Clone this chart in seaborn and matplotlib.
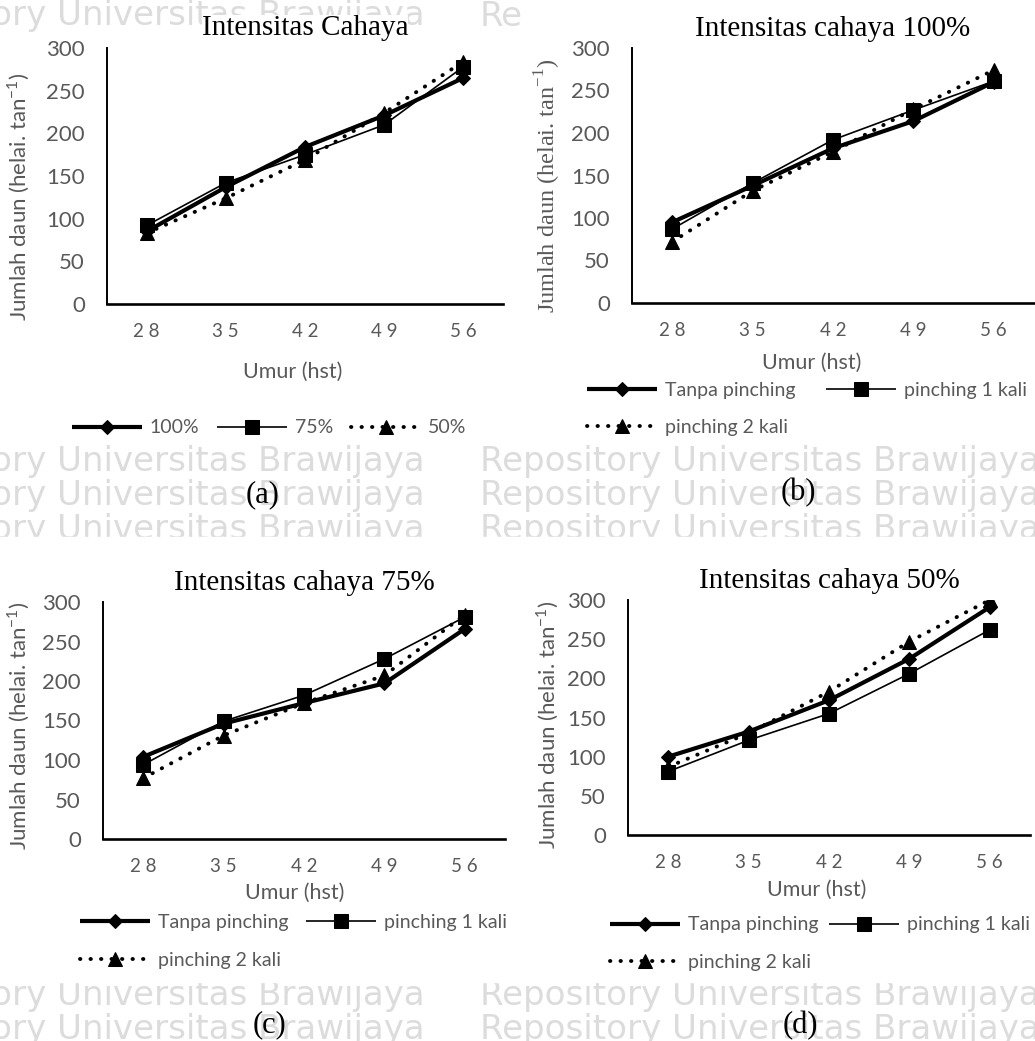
import numpy as np
import matplotlib
matplotlib.use("Agg")
import matplotlib.pyplot as plt
from matplotlib.patches import Rectangle
import seaborn as sns
import pandas as pd

# umur tanaman (hari setelah tanam)
umur = ["28", "35", "42", "49", "56"]
umur_labels = ["2 8", "3 5", "4 2", "4 9", "5 6"]

# (a) intensitas cahaya
a_100 = [85, 137, 184, 221, 265]
a_75 = [92, 142, 175, 210, 278]
a_50 = [83, 124, 169, 224, 284]
a_names = ["100%", "75%", "50%"]

# (b) intensitas cahaya 100%
b_tanpa = [95, 138, 182, 214, 260]
b_p1 = [87, 141, 192, 227, 261]
b_p2 = [72, 132, 178, 228, 274]

# (c) intensitas cahaya 75%
c_tanpa = [104, 146, 172, 197, 266]
c_p1 = [94, 149, 182, 228, 281]
c_p2 = [77, 131, 172, 207, 284]

# (d) intensitas cahaya 50%
d_tanpa = [100, 132, 172, 225, 291]
d_p1 = [81, 121, 155, 206, 262]
d_p2 = [87, 130, 183, 247, 300]

pinch_names = ["Tanpa pinching", "pinching 1 kali", "pinching 2 kali"]
titles = ["Intensitas Cahaya", "Intensitas cahaya 100%",
          "Intensitas cahaya 75%", "Intensitas cahaya 50%"]
panel_tags = ["(a)", "(b)", "(c)", "(d)"]

sns.set_theme(style="white")
plt.rcParams["font.family"] = ["Lato", "DejaVu Sans"]

W, H = 1035, 1041
GREY = "#595959"
SERIF = "Liberation Serif"


def fx(px):
    return px / W


def fy(py):
    return 1 - py / H


fig = plt.figure(figsize=(W / 100, H / 100), dpi=100)

# faint repository watermark behind the panels
wm = "Repository Universitas Brawijaya"
wm_kw = dict(fontsize=24.5, color="#dcdcdc", family="DejaVu Sans",
             va="center", zorder=-2)
for row in [461, 495, 529, 995, 1029]:
    fig.text(fx(425), fy(row), wm, ha="right", **wm_kw)
    fig.text(fx(480), fy(row), wm, ha="left", **wm_kw)
fig.text(fx(425), fy(16), wm, ha="right", **wm_kw)
fig.text(fx(480), fy(16), "Re", ha="left", **wm_kw)
fig.patches.append(Rectangle((0, fy(982)), 1, (982 - 537) / H,
                             transform=fig.transFigure, color="white", zorder=-1))

# plot area boxes in pixels: left, right, top, bottom
boxes = [(107, 503, 48, 304), (632, 1034, 48, 303),
         (103, 505, 602, 839), (628, 1030, 600, 835)]

series = [
    ([a_100, a_75, a_50], a_names),
    ([b_tanpa, b_p1, b_p2], pinch_names),
    ([c_tanpa, c_p1, c_p2], pinch_names),
    ([d_tanpa, d_p1, d_p2], pinch_names),
]

styles = [
    dict(lw=3.0, ls="-", marker="D", ms=7.5),
    dict(lw=1.2, ls="-", marker="s", ms=10),
    dict(lw=2.8, ls=(0, (0.1, 2.6)), marker="^", ms=10.5),
]

ylab = "Jumlah daun (helai. tan$^{\\mathregular{-1}}$)"
ylab_pos = [(-0.19, 0.42), (-0.172, 0.46), (-0.177, 0.477), (-0.167, 0.47)]
xlab_pos = [(0.47, -0.225), (0.448, -0.195), (0.478, -0.185), (0.47, -0.19)]
leg_pos = [(-0.088, -0.484), (-0.112, -0.416), (-0.057, -0.432), (-0.045, -0.462)]
col_space = [0.9, 1.6, 0.9, 0.55]
tag_pos = [(263, 495), (798, 493), (270, 1025), (800, 1026)]

for i, (left, right, top, bottom) in enumerate(boxes):
    ax = fig.add_axes([fx(left), fy(bottom), (right - left) / W, (bottom - top) / H])
    vals, names = series[i]
    for v, name, st in zip(vals, names, styles):
        df = pd.DataFrame({"umur": umur, "daun": v})
        sns.lineplot(data=df, x="umur", y="daun", ax=ax, color="black",
                     linewidth=st["lw"], linestyle=st["ls"], marker=st["marker"],
                     markersize=st["ms"], markeredgecolor="black",
                     dash_capstyle="round", solid_capstyle="butt",
                     label=name, sort=False)

    ax.set_xlim(-0.5, len(umur) - 0.5)
    ax.set_ylim(0, 300)
    ax.set_yticks(np.arange(0, 301, 50))
    ax.set_xticks(range(len(umur)), labels=umur_labels)
    ax.tick_params(axis="y", labelsize=16, colors=GREY, length=0, pad=16)
    ax.tick_params(axis="x", labelsize=13.5, colors=GREY, length=0, pad=14)
    for s in ["top", "right"]:
        ax.spines[s].set_visible(False)
    ax.spines["left"].set_color("black")
    ax.spines["left"].set_linewidth(1.4)
    ax.spines["bottom"].set_color("black")
    ax.spines["bottom"].set_linewidth(1.9)

    ax.set_title(titles[i], family=SERIF, fontsize=21, color="black", pad=9,
                 bbox=dict(facecolor="white", edgecolor="none", pad=0))

    if i == 1:
        ax.set_ylabel(ylab, family=SERIF, fontsize=17.5, color=GREY)
    else:
        ax.set_ylabel(ylab, fontsize=16, color=GREY)
    ax.yaxis.set_label_coords(*ylab_pos[i])
    ax.set_xlabel("Umur (hst)", fontsize=15.5, color=GREY)
    ax.xaxis.set_label_coords(*xlab_pos[i])

    handles, labels = ax.get_legend_handles_labels()
    if i == 0:
        ncol = 3
    else:
        # order so the rows read like the original: two on top, one below
        handles = [handles[0], handles[2], handles[1]]
        labels = [labels[0], labels[2], labels[1]]
        ncol = 2
    leg = ax.legend(handles, labels, ncol=ncol, loc="center left",
                    bbox_to_anchor=leg_pos[i], frameon=False, borderaxespad=0,
                    borderpad=0, fontsize=14, handlelength=3.6, handletextpad=0.4,
                    columnspacing=col_space[i], labelspacing=1.05, labelcolor=GREY)

    fig.text(fx(tag_pos[i][0]), fy(tag_pos[i][1]), panel_tags[i], family=SERIF,
             fontsize=22, ha="center", va="center", color="black")

fig.savefig("out.png", dpi=100, facecolor="white")
